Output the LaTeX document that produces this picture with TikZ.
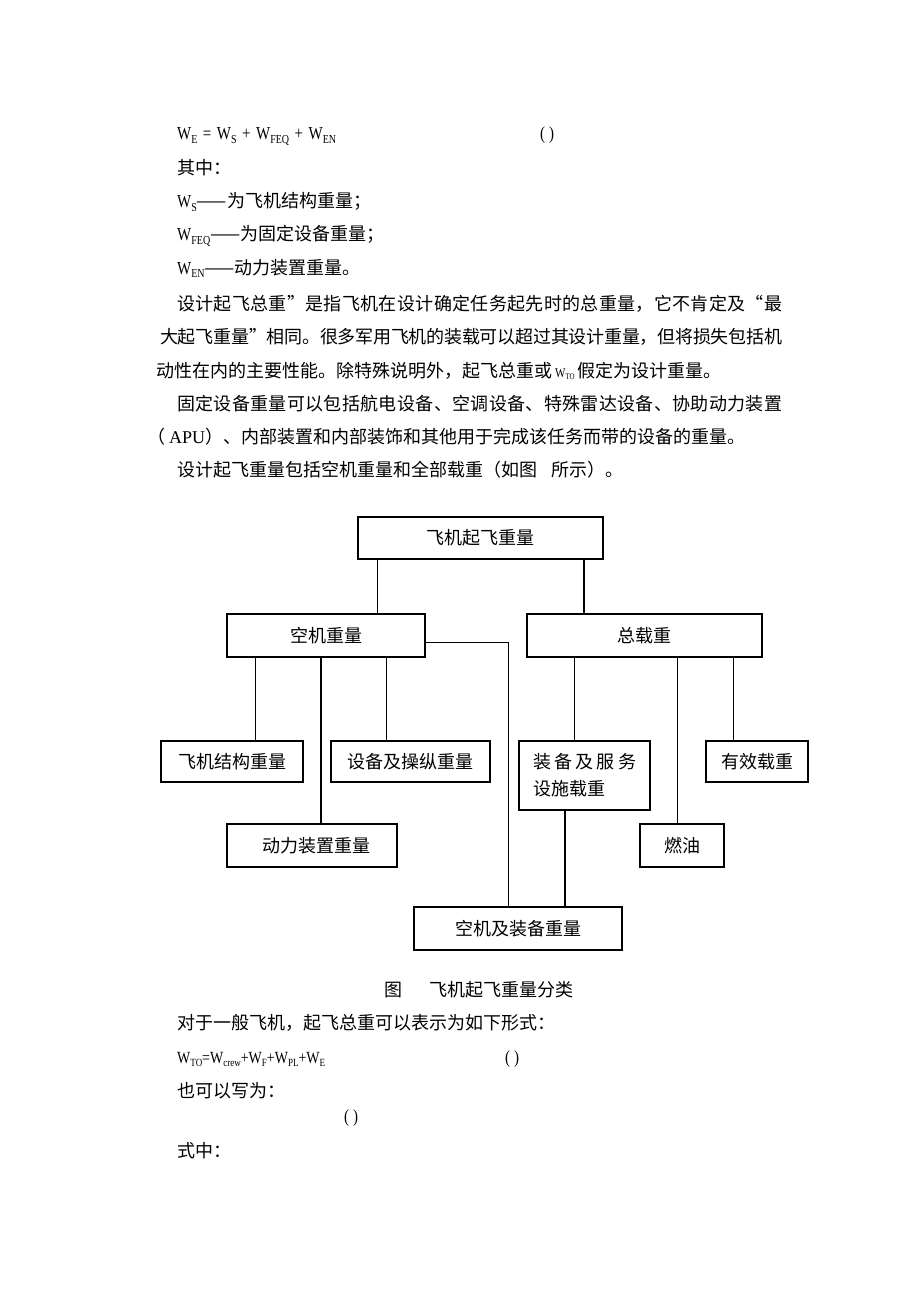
\documentclass[tikz,border=0pt]{standalone}
\usepackage{fontspec}
\usepackage{graphicx}
\setmainfont{Noto Sans CJK SC}
\newfontfamily\lat{Liberation Serif}
\makeatletter
\def\spr@endmark{\spr@endmark}
\def\spr@endtest{\spr@endmark}
\newcommand\spr[2]{\makebox[#1][s]{\spr@first#2\spr@endmark}}
\def\spr@first#1{#1\spr@loop}
\def\spr@loop#1{\def\spr@tmp{#1}\ifx\spr@tmp\spr@endtest\else\hskip 0pt plus 1fil minus 1fil\relax{#1}\expandafter\spr@loop\fi}
\makeatother
\newcommand\Wsb[1]{\raisebox{-3pt}{\fontsize{10}{10}\selectfont #1}}
\newcommand\WW[1]{\scalebox{1}[1.22]{\lat\fontsize{15}{15}\selectfont W\Wsb{#1}}}
\newcommand\tall[1]{\scalebox{1}[1.22]{#1}}
\tikzset{
  txt/.style={anchor=base west, inner sep=0pt, font=\fontsize{18}{18}\selectfont},
  bx/.style={draw, line width=1.6pt, inner sep=0pt, font=\fontsize{18}{27}\selectfont},
  ln/.style={line width=1.3pt},
}
\begin{document}
\begin{tikzpicture}[x=1pt,y=-1pt]
\useasboundingbox (0,0) rectangle (920,1302);
\fill[white] (0,0) rectangle (920,1302);

% ---------- text above the figure ----------
\node[txt] (t1) at (177,139.5) {\tall{\lat\fontsize{15}{15}\selectfont W\Wsb{E}\hspace{5.5pt}=\hspace{5.5pt}W\Wsb{S}\hspace{5.5pt}+\hspace{5.5pt}W\Wsb{FEQ}\hspace{5.5pt}+\hspace{5.5pt}W\Wsb{EN}}};
\node[txt] (t1p) at (540,139.5) {\tall{\lat\fontsize{15}{15}\selectfont (\hspace{4pt})}};
\node[txt] (t2) at (177,174) {其中：};
\node[txt] (t3) at (177,207.5) {\WW{S}——为飞机结构重量；};
\node[txt] (t4) at (177,240.5) {\WW{FEQ}——为固定设备重量；};
\node[txt] (t5) at (177,274) {\WW{EN}——动力装置重量。};
\node[txt] (t6) at (177,310) {\spr{605pt}{设计起飞总重”是指飞机在设计确定任务起先时的总重量，它不肯定及“最}};
\node[txt] (t7) at (160,343.5) {\spr{622pt}{大起飞重量”相同。很多军用飞机的装载可以超过其设计重量，但将损失包括机}};
\node[txt] (t8) at (156,377) {动性在内的主要性能。除特殊说明外，起飞总重或\hspace{3pt}\tall{\lat\fontsize{11}{11}\selectfont W\raisebox{-2pt}{\fontsize{7}{7}\selectfont TO}}\hspace{3pt}假定为设计重量。};
\node[txt] (t9) at (177,410.3) {\spr{605pt}{固定设备重量可以包括航电设备、空调设备、特殊雷达设备、协助动力装置}};
\node[txt] (t10) at (147,443) {（\hspace{4pt}{\lat APU}）、内部装置和内部装饰和其他用于完成该任务而带的设备的重量。};
\node[txt] (t11) at (177,476) {设计起飞重量包括空机重量和全部载重（如图\hspace{14pt}所示）。};

% ---------- boxes ----------
\node[bx, minimum width=245pt, minimum height=42pt] (top) at (480.5,538) {飞机起飞重量};
\node[bx, minimum width=198pt, minimum height=43pt] (kj) at (326,635.5) {空机重量\hspace{20pt}};
\node[bx, minimum width=235pt, minimum height=43pt] (zz) at (644.5,635.5) {总载重};
\node[bx, minimum width=142pt, minimum height=41pt] (jg) at (232,761.5) {飞机结构重量};
\node[bx, minimum width=159pt, minimum height=41pt] (sb) at (410.5,761.5) {设备及操纵重量};
\node[bx, minimum width=131pt, minimum height=69pt, align=left] (zb) at (584.5,775.5) {\spr{103pt}{装备及服务}\\设施载重};
\node[bx, minimum width=102pt, minimum height=41pt] (yx) at (757,761.5) {有效载重};
\node[bx, minimum width=170pt, minimum height=43pt] (dl) at (312,845.5) {\hspace{8pt}动力装置重量};
\node[bx, minimum width=84pt, minimum height=43pt] (ry) at (682,845.5) {燃油\hspace{19pt}};
\node[bx, minimum width=208pt, minimum height=43pt] (kjzb) at (518,928.5) {空机及装备重量\hspace{10pt}};

% ---------- connectors ----------
\coordinate (a1) at (377.5,0);
\coordinate (a2) at (584,0);
\coordinate (b1) at (255.2,0);
\coordinate (b2) at (320.9,0);
\coordinate (b3) at (386.5,0);
\coordinate (r) at (508.6,642.7);
\coordinate (c1) at (574.2,0);
\coordinate (c2) at (677.8,0);
\coordinate (c3) at (733.8,0);
\coordinate (d1) at (565,0);
\draw[ln] (top.south -| a1) -- (kj.north -| a1);
\draw[ln] (top.south -| a2) -- (zz.north -| a2);
\draw[ln] (kj.south -| b1) -- (jg.north -| b1);
\draw[ln] (kj.south -| b2) -- (dl.north -| b2);
\draw[ln] (kj.south -| b3) -- (sb.north -| b3);
\draw[ln] (kj.east |- r) -- (r) -- (kjzb.north -| r);
\draw[ln] (zz.south -| c1) -- (zb.north -| c1);
\draw[ln] (zz.south -| c2) -- (ry.north -| c2);
\draw[ln] (zz.south -| c3) -- (yx.north -| c3);
\draw[ln] (zb.south -| d1) -- (kjzb.north -| d1);

% ---------- caption and text below ----------
\node[txt] (cap) at (384,996) {图\hspace{27pt}飞机起飞重量分类};
\node[txt] (t12) at (177,1029.5) {对于一般飞机，起飞总重可以表示为如下形式：};
\node[txt] (t13) at (177,1063) {\tall{\lat\fontsize{14}{14}\selectfont W\raisebox{-3pt}{\fontsize{9}{9}\selectfont TO}=W\raisebox{-3pt}{\fontsize{9}{9}\selectfont crew}+W\raisebox{-3pt}{\fontsize{9}{9}\selectfont F}+W\raisebox{-3pt}{\fontsize{9}{9}\selectfont PL}+W\raisebox{-3pt}{\fontsize{9}{9}\selectfont E}}};
\node[txt] (t13p) at (505,1063) {\tall{\lat\fontsize{15}{15}\selectfont (\hspace{4pt})}};
\node[txt] (t14) at (177,1097) {也可以写为：};
\node[txt] (t15) at (344,1122) {\tall{\lat\fontsize{15}{15}\selectfont (\hspace{4pt})}};
\node[txt] (t16) at (177,1157) {式中：};
\end{tikzpicture}
\end{document}
